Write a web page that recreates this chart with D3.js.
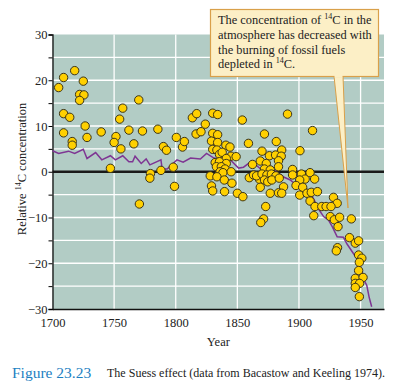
<!DOCTYPE html>
<html><head><meta charset="utf-8">
<script src="https://cdn.jsdelivr.net/npm/d3@7"></script>
<style>body{margin:0;background:#fff}svg{display:block}text{font-family:"Liberation Serif","DejaVu Serif",serif}</style>
</head><body><svg id="c" width="404" height="392"></svg>
<script>
const lineYears=[1700,1705,1713,1718,1725,1728,1735,1740,1747,1751,1757,1762,1765,1767,1772,1776,1779,1788,1789,1793,1801,1806,1812,1820,1825,1831,1838,1845,1851,1855,1860,1864,1869,1875,1880,1888,1893,1898,1903,1908,1912,1916,1920,1924,1927,1931,1936,1939,1945,1949,1951,1953,1955,1957,1959];
const lineValues=[4.6,4.0,4.5,4.0,4.9,2.9,4.2,2.6,3.5,2.6,3.5,2.2,2.2,3.4,1.8,2.8,1.5,2.6,0.6,0.6,2.6,2.1,3.0,2.8,4.0,3.0,2.6,2.4,0.8,1.0,2.0,1.7,0.6,0.8,0.3,-1.2,-1.8,-3.0,-3.8,-4.2,-6.0,-8.2,-9.8,-10.6,-12.0,-14.2,-14.3,-15.8,-18.2,-19.8,-21.8,-23.8,-24.8,-27.5,-29.5];
const dotYears=[1705,1709,1718,1725,1722,1725.5,1722,1709,1714,1709,1726.5,1728,1716,1716,1739.5,1751.5,1750,1755.5,1757,1754.5,1762,1766,1747,1770,1773,1770.5,1785.5,1790,1792.5,1779.5,1779,1788,1798,1799,1800.5,1805.5,1807,1813.5,1817,1816.5,1820.5,1824,1830,1834,1830,1834,1854,1829,1834,1859,1840.7,1844,1830,1833.4,1835.5,1837.7,1844.8,1849,1841,1832,1835.5,1841,1862.3,1868.6,1833,1837,1840,1836,1838.3,1845,1828,1833.4,1839.4,1859.7,1863.2,1868,1829,1830,1845.6,1839.6,1850,1854.5,1890.7,1911,1872,1881.6,1870,1886,1900.8,1876,1881,1885.6,1873.5,1883.4,1883.4,1872,1876.7,1894.8,1865.6,1870,1874,1877.6,1881.3,1872,1874.7,1878,1884,1894.8,1902,1905,1909,1912.7,1900.6,1897.6,1903,1887.5,1868.6,1876.7,1883.4,1886,1900.6,1906.5,1910,1915,1909,1913,1918.5,1912,1873,1871.3,1869,1928,1931,1922,1926,1925.4,1928.7,1933,1931.7,1942.5,1941,1945.7,1948.4,1931.3,1930.3,1948.4,1951,1949,1948.4,1945.7,1952,1945.7,1949.2,1945.7,1949];
const dotValues=[18.4,20.6,22.1,19.8,16.9,16.8,15.6,12.7,11.9,8.5,10.0,7.5,6.6,5.8,8.7,7.7,6.4,5.0,13.9,11.5,9.1,6.1,0.75,15.7,8.9,-7.05,9.3,5.5,4.7,-0.4,-1.4,0.3,1.0,-3.2,7.5,5.4,6.6,11.8,12.7,8.25,8.75,10.4,12.8,12.5,8.4,8.1,11.3,6.7,6.4,6.2,5.8,5.4,4.9,4.75,3.8,4.25,3.4,3.3,2.9,2.0,2.2,1.8,1.6,2.35,1.1,1.1,0.6,0,-0.2,0,-0.9,-1.1,-1.8,-1.3,-0.7,-1.65,-3.1,-4.2,-2.5,-4.35,-4.7,-5.45,12.6,9.0,8.25,6.6,4.5,4.75,4.6,3.5,3.65,3.4,1.8,2.4,1.1,0.6,0.4,0.5,-0.9,-0.5,-0.7,-0.5,-0.9,-1.8,-2.2,-1.8,-1.4,-0.7,-0.5,-1.6,-0.2,-1.6,-1.8,-3.0,-3.4,-3.3,-3.4,-4.7,-4.6,-4.7,-5.1,-4.7,-4.5,-4.35,-6.4,-7.6,-7.6,-9.6,-7.6,-10.3,-11.1,-5.6,-6.9,-7.6,-7.6,-9.8,-10.5,-9.95,-12.0,-10.3,-14.4,-15.6,-15.1,-16.6,-17.3,-18.2,-18.9,-19.8,-21.6,-23.3,-23.1,-24.4,-24.4,-25.3,-27.3];
const xTicks=[1700,1750,1800,1850,1900,1950];
const yTicks=[-30,-20,-10,0,10,20,30];
const yMinor=[-30,-25,-20,-15,-10,-5,0,5,10,15,20,25,30];

const svg=d3.select("#c");
const x=d3.scaleLinear().domain([1700,1969]).range([52.5,384]);
const y=d3.scaleLinear().domain([-30,30]).range([309,34.5]);

svg.append("rect").attr("x",x(1700)).attr("y",y(30)).attr("width",x(1969)-x(1700)).attr("height",y(-30)-y(30)).attr("fill","#b2ccc5");
// grid
svg.append("g").selectAll("line").data(yMinor.filter(v=>v!==0&&Math.abs(v)!==30)).join("line")
 .attr("x1",x(1700)).attr("x2",x(1969)).attr("y1",d=>y(d)).attr("y2",d=>y(d)).attr("stroke","#fff").attr("stroke-width",1.3);
svg.append("g").selectAll("line").data(xTicks.slice(1)).join("line")
 .attr("y1",y(30)).attr("y2",y(-30)).attr("x1",d=>x(d)).attr("x2",d=>x(d)).attr("stroke","#fff").attr("stroke-width",1.3);
svg.append("line").attr("x1",x(1700)).attr("x2",x(1969)).attr("y1",y(0)).attr("y2",y(0)).attr("stroke","#1a1a1a").attr("stroke-width",2.4);

// axes
const ya=d3.axisLeft(y).tickValues(yMinor).tickSize(4).tickFormat(d=>yTicks.includes(d)?(d<0?"\u2212"+Math.abs(d):d):"");
const gy=svg.append("g").attr("transform",`translate(${x(1700)},0)`).call(ya);
gy.select(".domain").attr("stroke","#111").attr("stroke-width",1.3);
gy.selectAll("text").attr("font-size",12.5).attr("fill","#222").attr("x",-5);
const xa=d3.axisBottom(x).tickValues(xTicks).tickSize(0).tickFormat(d3.format("d"));
const gx=svg.append("g").attr("transform",`translate(0,${y(-30)})`).call(xa);
gx.select(".domain").attr("stroke","#111").attr("stroke-width",1.3);
gx.selectAll("text").attr("font-size",12.5).attr("fill","#222").attr("dy","1.2em");

// line
svg.append("path").datum(lineYears.map((d,i)=>[d,lineValues[i]]))
 .attr("d",d3.line().x(d=>x(d[0])).y(d=>y(d[1]))).attr("fill","none").attr("stroke","#7e3593").attr("stroke-width",1.5);

// dots
svg.append("g").selectAll("circle").data(dotYears.map((d,i)=>[d,dotValues[i]])).join("circle")
 .attr("cx",d=>x(d[0])).attr("cy",d=>y(d[1])).attr("r",4.2).attr("fill","#ffd000").attr("stroke","#3b3418").attr("stroke-width",1);

// callout
svg.append("path").attr("d","M334,76 L348,208 L343,76 Z").attr("fill","#fcefc6").attr("stroke","#d9a04a").attr("stroke-width",1);
svg.append("rect").attr("x",210.5).attr("y",9.5).attr("width",168).attr("height",67).attr("fill","#fcefc6").attr("stroke","#d9a04a").attr("stroke-width",1.2);
svg.append("rect").attr("x",334.5).attr("y",75).attr("width",8).attr("height",2.5).attr("fill","#fcefc6");
const ann=svg.append("text").attr("font-size",12.4).attr("fill","#222");
function addLine(parts,yy){const t=ann.append("tspan").attr("x",218).attr("y",yy);parts.forEach(p=>{if(p.sup){t.append("tspan").attr("font-size",8).attr("dy",-5).text(p.sup);t.append("tspan").attr("dy",5).text(p.t);}else t.append("tspan").text(p.t);});}
addLine([{t:"The concentration of "},{sup:"14",t:"C in the"}],24);
addLine([{t:"atmosphere has decreased with"}],39);
addLine([{t:"the burning of fossil fuels"}],54);
addLine([{t:"depleted in "},{sup:"14",t:"C."}],68);

// axis labels
svg.append("text").attr("x",x(1850)-19).attr("y",346).attr("text-anchor","middle").attr("font-size",12.5).attr("fill","#222").text("Year");
const yl=svg.append("text").attr("transform","translate(26,169) rotate(-90)").attr("text-anchor","middle").attr("font-size",12.5).attr("fill","#222");
yl.append("tspan").text("Relative ");
yl.append("tspan").attr("font-size",8).attr("dy",-5).text("14");
yl.append("tspan").attr("dy",5).text("C concentration");

// caption
svg.append("text").attr("x",12).attr("y",378).attr("font-size",15.5).attr("fill","#1c7fc2").text("Figure 23.23");
svg.append("text").attr("x",107).attr("y",377).attr("font-size",11.5).attr("fill","#222").attr("textLength",278).attr("lengthAdjust","spacingAndGlyphs").text("The Suess effect (data from Bacastow and Keeling 1974).");
</script></body></html>
